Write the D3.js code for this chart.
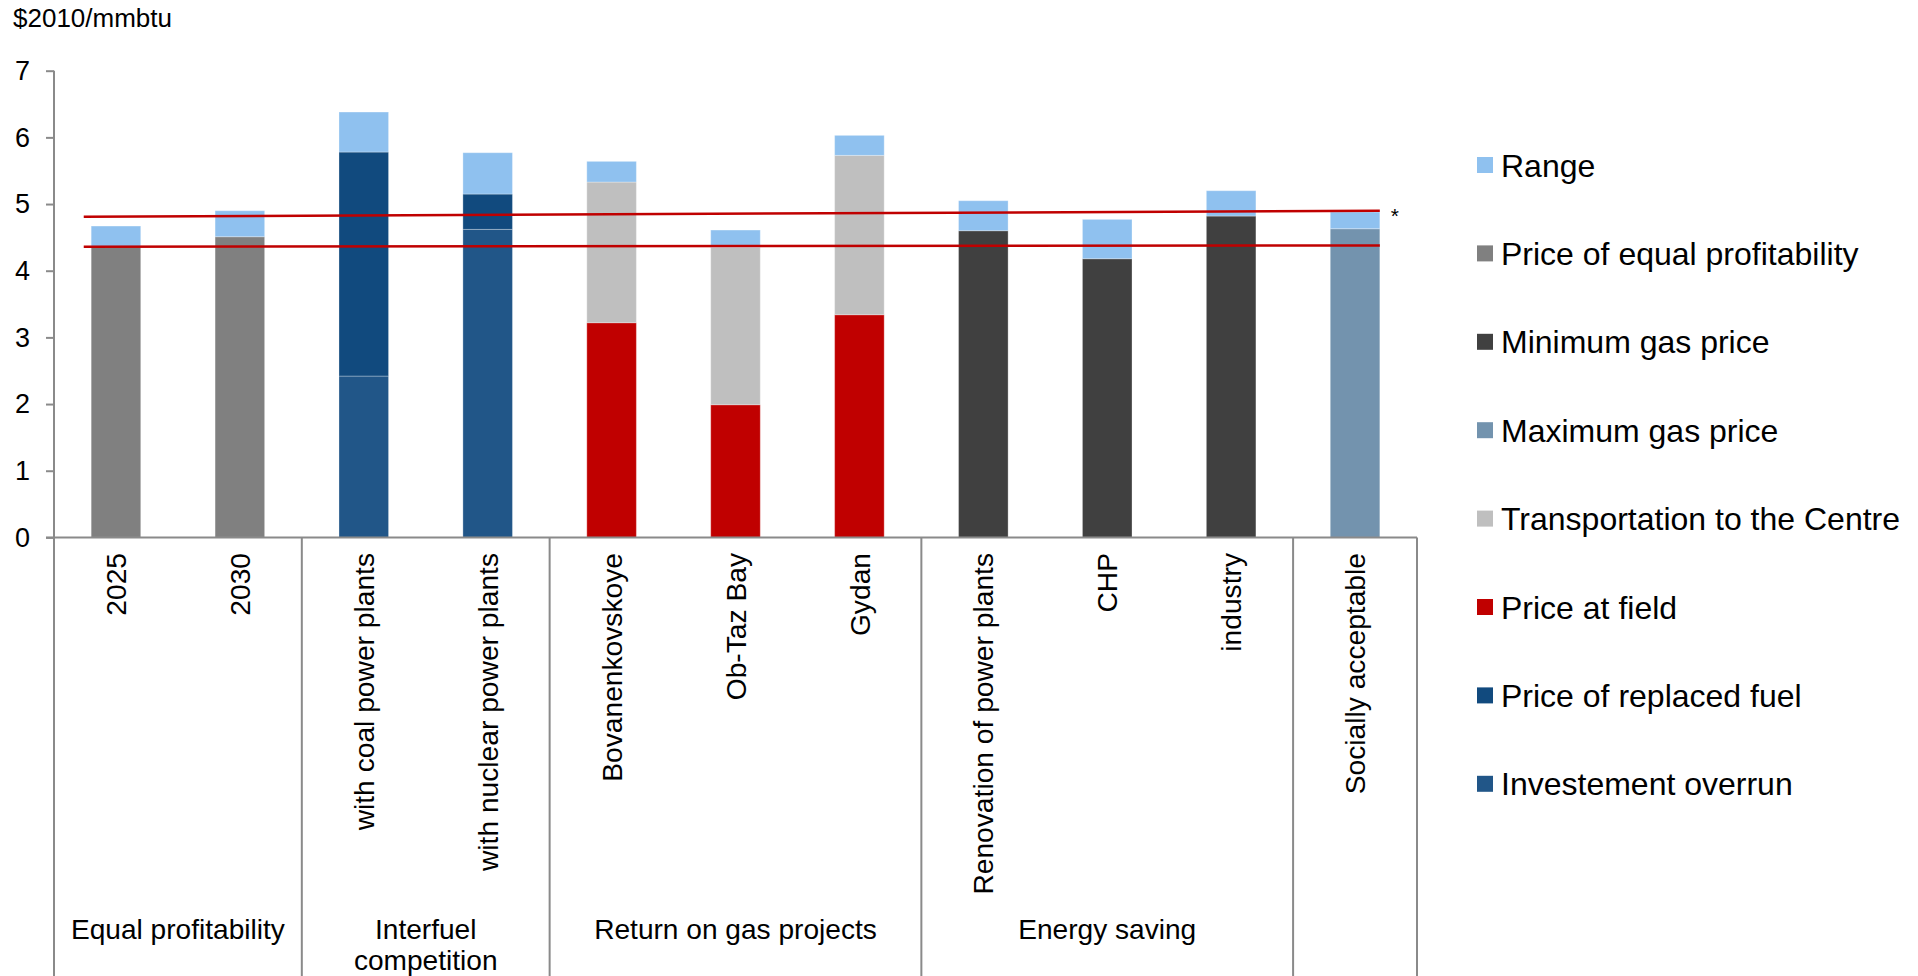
<!DOCTYPE html>
<html>
<head>
<meta charset="utf-8">
<script src="https://cdn.jsdelivr.net/npm/d3@7"></script>
<style>
  html, body { margin: 0; padding: 0; background: #ffffff; }
  svg { display: block; font-family: "Liberation Sans", Arial, sans-serif; }
</style>
</head>
<body>
<svg id="chart" width="1918" height="976"></svg>
<script>
// Categories along the x axis
const categories = [
  "2025", "2030",
  "with coal power plants", "with nuclear power plants",
  "Bovanenkovskoye", "Ob-Taz Bay", "Gydan",
  "Renovation of power plants", "CHP", "industry",
  "Socially acceptable"
];

// Category groups (second level of the x axis)
const groupNames = ["Equal profitability", "Interfuel competition", "Return on gas projects", "Energy saving", ""];
const groupSizes = [2, 2, 3, 3, 1];

// Stacked series, bottom to top ($2010/mmbtu)
const investmentOverrun = [0, 0, 2.42, 4.62, 0, 0, 0, 0, 0, 0, 0];
const replacedFuel      = [0, 0, 3.36, 0.53, 0, 0, 0, 0, 0, 0, 0];
const priceAtField      = [0, 0, 0, 0, 3.22, 1.99, 3.34, 0, 0, 0, 0];
const transportation    = [0, 0, 0, 0, 2.11, 2.36, 2.39, 0, 0, 0, 0];
const maxGasPrice       = [0, 0, 0, 0, 0, 0, 0, 0, 0, 0, 4.63];
const minGasPrice       = [0, 0, 0, 0, 0, 0, 0, 4.60, 4.18, 4.82, 0];
const equalProfit       = [4.36, 4.51, 0, 0, 0, 0, 0, 0, 0, 0, 0];
const rangeValues       = [0.31, 0.39, 0.60, 0.62, 0.31, 0.26, 0.30, 0.45, 0.59, 0.38, 0.25];

// Reference lines: value at the left end and at the right end
const upperLine = [4.81, 4.90];
const lowerLine = [4.36, 4.38];

// Y-axis ticks
const yTicks = [0, 1, 2, 3, 4, 5, 6, 7];

const series = [
  { name: "Investement overrun",          values: investmentOverrun, color: "#215688" },
  { name: "Price of replaced fuel",       values: replacedFuel,      color: "#114A7E" },
  { name: "Price at field",               values: priceAtField,      color: "#C00000" },
  { name: "Transportation to the Centre", values: transportation,    color: "#BFBFBF" },
  { name: "Maximum gas price",            values: maxGasPrice,       color: "#7393AE" },
  { name: "Minimum gas price",            values: minGasPrice,       color: "#404040" },
  { name: "Price of equal profitability", values: equalProfit,       color: "#808080" },
  { name: "Range",                        values: rangeValues,       color: "#8FC1EF" }
];

const svg = d3.select("#chart");

const plotLeft = 54, plotRight = 1417, plotTop = 70.7, plotBottom = 537.4;

const x = d3.scaleBand()
  .domain(categories)
  .range([plotLeft, plotRight])
  .paddingInner(0.6)
  .paddingOuter(0.3);

const y = d3.scaleLinear()
  .domain([0, 7])
  .range([plotBottom, plotTop]);

const step = x.step();
const axisColor = "#8A8A8A";

// Stack the series
const table = categories.map((c, i) => {
  const row = { category: c };
  series.forEach(s => { row[s.name] = s.values[i]; });
  return row;
});
const stacked = d3.stack().keys(series.map(s => s.name))(table);

const barLayer = svg.append("g");
stacked.forEach((layer, k) => {
  barLayer.append("g")
    .attr("fill", series[k].color)
    .selectAll("rect")
    .data(layer.filter(d => d[1] - d[0] > 0))
    .join("rect")
    .attr("x", d => x(d.data.category))
    .attr("width", x.bandwidth())
    .attr("y", d => y(d[1]))
    .attr("height", d => y(d[0]) - y(d[1]))
    .attr("stroke", "rgba(255,255,255,0.3)")
    .attr("stroke-width", 1);
});

// Y axis
const yAxis = d3.axisLeft(y)
  .tickValues(yTicks)
  .tickFormat(d3.format("d"))
  .tickSize(8)
  .tickPadding(16);

const yG = svg.append("g")
  .attr("transform", `translate(${plotLeft},0)`)
  .call(yAxis);
yG.select(".domain").attr("stroke", axisColor).attr("stroke-width", 2)
  .attr("d", `M0,${plotTop}V${plotBottom}`);
yG.selectAll(".tick line").attr("stroke", axisColor).attr("stroke-width", 2);
yG.selectAll(".tick text")
  .attr("font-size", 27)
  .attr("fill", "#000")
  .attr("font-family", "Liberation Sans, Arial, sans-serif");

// Unit label
svg.append("text")
  .attr("x", 13)
  .attr("y", 27)
  .attr("font-size", 26)
  .attr("fill", "#000")
  .text("$2010/mmbtu");

// X axis baseline
svg.append("line")
  .attr("x1", plotLeft - 8).attr("x2", plotRight)
  .attr("y1", plotBottom).attr("y2", plotBottom)
  .attr("stroke", axisColor).attr("stroke-width", 2);

// Group separators extending below the axis
const boundaries = [0];
groupSizes.reduce((acc, n) => { boundaries.push(acc + n); return acc + n; }, 0);
svg.append("g")
  .selectAll("line")
  .data(boundaries)
  .join("line")
  .attr("x1", b => plotLeft + b * step)
  .attr("x2", b => plotLeft + b * step)
  .attr("y1", plotBottom)
  .attr("y2", 976)
  .attr("stroke", axisColor)
  .attr("stroke-width", 2);

// Category labels (rotated)
svg.append("g")
  .selectAll("text")
  .data(categories)
  .join("text")
  .attr("transform", c => `translate(${x(c) + x.bandwidth() / 2},553) rotate(-90)`)
  .attr("text-anchor", "end")
  .attr("dy", "0.36em")
  .attr("font-size", 28.2)
  .attr("fill", "#000")
  .text(c => c);

// Group labels
const groupLabelLines = {
  "Interfuel competition": ["Interfuel", "competition"]
};
const groupG = svg.append("g");
groupNames.forEach((g, i) => {
  if (!g) return;
  const cx = plotLeft + (boundaries[i] + boundaries[i + 1]) / 2 * step;
  const lines = groupLabelLines[g] || [g];
  const t = groupG.append("text")
    .attr("x", cx)
    .attr("y", 939)
    .attr("text-anchor", "middle")
    .attr("font-size", 28.1)
    .attr("fill", "#000");
  lines.forEach((ln, j) => {
    t.append("tspan").attr("x", cx).attr("dy", j === 0 ? 0 : 31).text(ln);
  });
});

// Reference lines
const lineStart = plotLeft + 0.24 * step;
const lineEnd = x(categories[categories.length - 1]) + x.bandwidth();
[upperLine, lowerLine].forEach(v => {
  svg.append("line")
    .attr("x1", lineStart).attr("x2", lineEnd)
    .attr("y1", y(v[0])).attr("y2", y(v[1]))
    .attr("stroke", "#C00000")
    .attr("stroke-width", 2.5);
});
svg.append("text")
  .attr("x", lineEnd + 11)
  .attr("y", y(upperLine[1]) + 12)
  .attr("font-size", 21)
  .attr("fill", "#000")
  .text("*");

// Legend (top entry is the top of the stack)
const legendItems = series.slice().reverse();
const legend = svg.append("g");
legendItems.forEach((s, i) => {
  const cy = 165 + i * 88.4;
  legend.append("rect")
    .attr("x", 1477).attr("y", cy - 8)
    .attr("width", 16).attr("height", 16)
    .attr("fill", s.color);
  legend.append("text")
    .attr("x", 1501).attr("y", cy)
    .attr("dy", "0.36em")
    .attr("font-size", 32)
    .attr("fill", "#000")
    .text(s.name);
});
</script>
</body>
</html>
